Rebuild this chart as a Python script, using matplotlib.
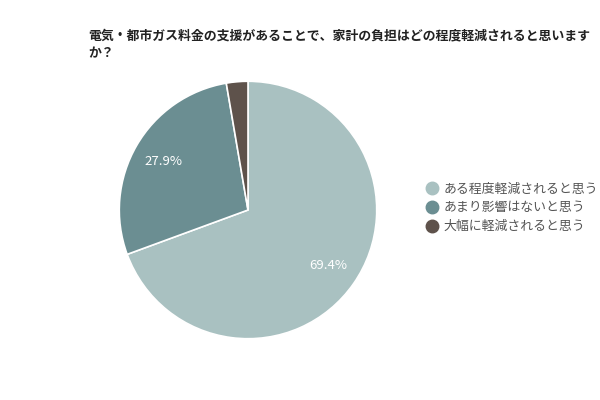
import matplotlib
matplotlib.use("Agg")
import matplotlib.pyplot as plt
from matplotlib.lines import Line2D

plt.rcParams['font.family'] = ['Noto Sans CJK JP', 'DejaVu Sans']

# Data
title = "電気・都市ガス料金の支援があることで、家計の負担はどの程度軽減されると思います\nか？"
labels = ["ある程度軽減されると思う", "あまり影響はないと思う", "大幅に軽減されると思う"]
values = [69.4, 27.9, 2.7]
colors = ["#a9c1c1", "#6b8e92", "#5e524b"]

fig = plt.figure(figsize=(6, 4), dpi=100)
fig.patch.set_facecolor("white")

fig.text(88 / 600, 1 - 28 / 400, title, fontsize=9.3, fontweight="bold",
         color="#222222", ha="left", va="top", linespacing=1.4)

ax = fig.add_axes([118 / 600, 60 / 400, 260 / 600, 260 / 400])
wedges, texts, autotexts = ax.pie(
    values, colors=colors, startangle=90, counterclock=False,
    autopct=lambda p: f"{p:.1f}%" if p > 5 else "",
    pctdistance=0.76,
    wedgeprops=dict(edgecolor="white", linewidth=1.2),
    textprops=dict(color="white", fontsize=9.5),
)
ax.set_xlim(-1.01, 1.01)
ax.set_ylim(-1.01, 1.01)
ax.set_aspect("equal")

handles = [Line2D([0], [0], marker="o", linestyle="", markersize=9,
                  markerfacecolor=c, markeredgecolor=c) for c in colors]
fig.legend(handles, labels, loc="center left",
           bbox_to_anchor=(420 / 600, 1 - 208 / 400), frameon=False,
           fontsize=9.3, labelcolor="#555555", handletextpad=0.45,
           handlelength=1.0, labelspacing=0.45, borderaxespad=0)

fig.savefig("out.png", dpi=100, facecolor="white")
